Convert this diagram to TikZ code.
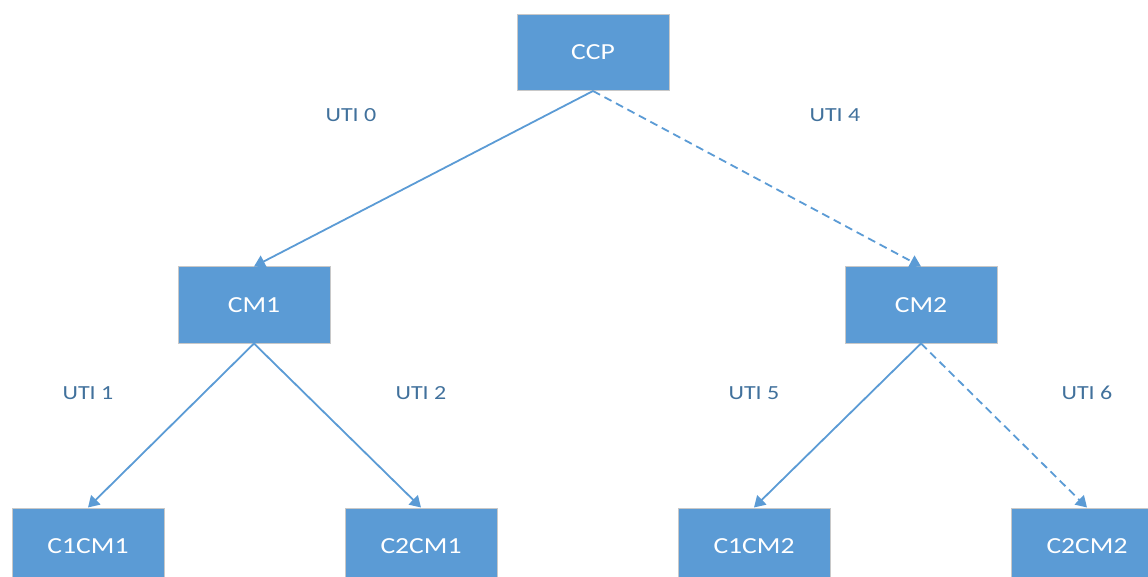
\documentclass[tikz,border=0pt]{standalone}
\usepackage{fontspec}
\setmainfont{Carlito}[FakeStretch=1.2]
\usetikzlibrary{arrows.meta}
\definecolor{boxblue}{HTML}{5B9BD5}
\definecolor{labelblue}{HTML}{41719C}
\definecolor{boxedge}{HTML}{C8C8C8}
\tikzset{
  unitbox/.style={draw=boxedge, line width=1pt, fill=boxblue, text=white,
    minimum width=152pt, minimum height=76pt, inner sep=0pt, font=\fontsize{23}{27}\selectfont},
  conn/.style={draw=boxblue, line width=1.8pt, -{Triangle[length=11pt,width=13pt]}},
  dashconn/.style={conn, dash pattern=on 8pt off 5pt},
  utilabel/.style={text=labelblue, font=\fontsize{20}{24}\selectfont, inner sep=0pt}
}
\begin{document}
\begin{tikzpicture}[x=1pt,y=-1pt]
\useasboundingbox (0,0) rectangle (1148,577);
\clip (0,0) rectangle (1148,577);
\node[unitbox] (ccp) at (593,52.5) {CCP};
\node[unitbox] (cm1) at (254,305) {CM1};
\node[unitbox] (cm2) at (921,305) {CM2};
\node[unitbox] (c1cm1) at (88,546) {C1CM1};
\node[unitbox] (c2cm1) at (421,546) {C2CM1};
\node[unitbox] (c1cm2) at (754,546) {C1CM2};
\node[unitbox] (c2cm2) at (1087,546) {C2CM2};
\draw[conn] (ccp.south) -- (cm1.north);
\draw[dashconn] (ccp.south) -- (cm2.north);
\draw[conn] (cm1.south) -- (c1cm1.north);
\draw[conn] (cm1.south) -- (c2cm1.north);
\draw[conn] (cm2.south) -- (c1cm2.north);
\draw[dashconn] (cm2.south) -- (c2cm2.north);
\node[utilabel] (l0) at (351,115) {UTI 0};
\node[utilabel] (l4) at (835,115) {UTI 4};
\node[utilabel] (l1) at (88,393) {UTI 1};
\node[utilabel] (l2) at (421,393) {UTI 2};
\node[utilabel] (l5) at (754,393) {UTI 5};
\node[utilabel] (l6) at (1087,393) {UTI 6};
\end{tikzpicture}
\end{document}
